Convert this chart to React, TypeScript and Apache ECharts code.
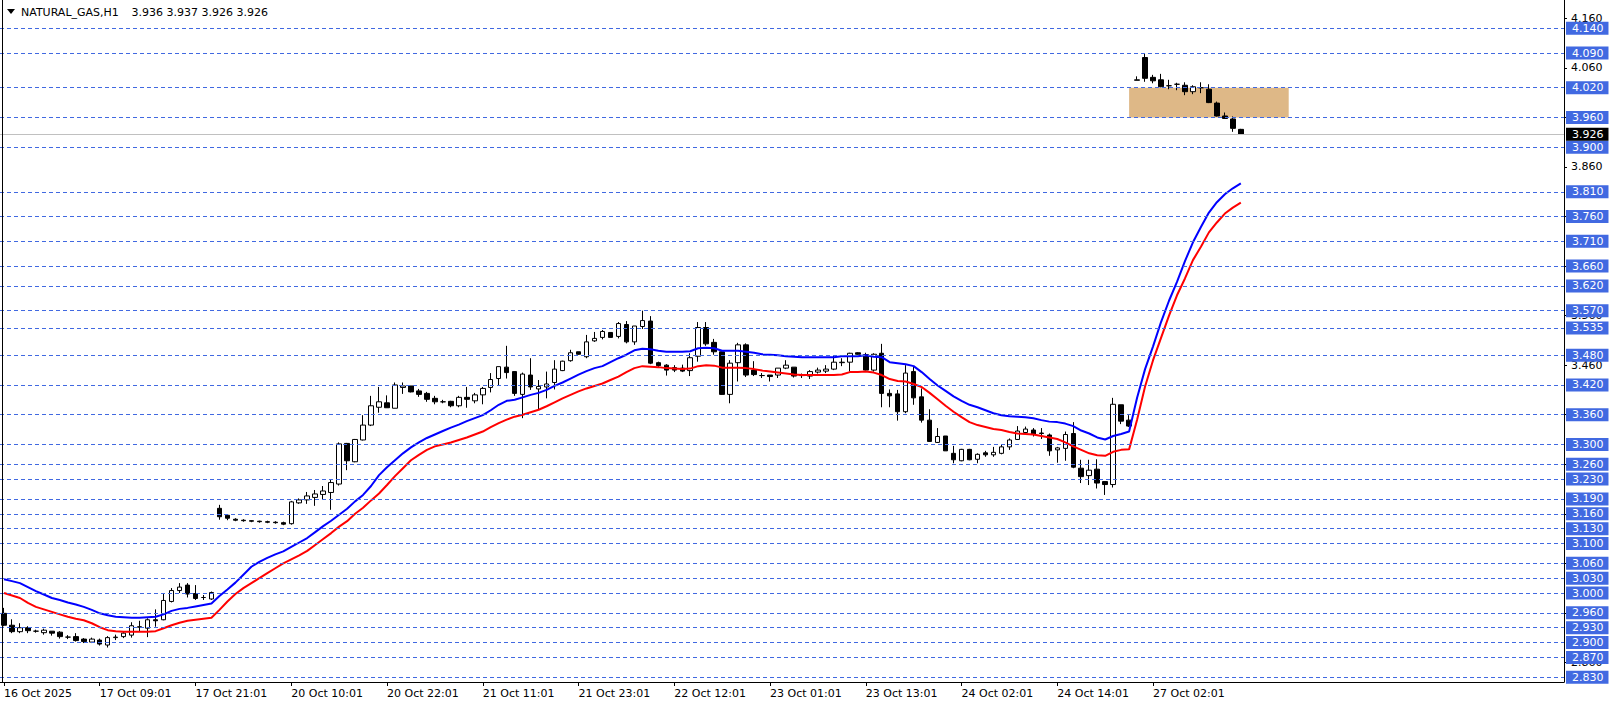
import React, { useEffect, useRef } from 'react';
import * as echarts from 'echarts';

// ---------- data ----------
const symbolName = 'NATURAL_GAS,H1';

const xTickLabels = [
  '16 Oct 2025', '17 Oct 09:01', '17 Oct 21:01', '20 Oct 10:01', '20 Oct 22:01',
  '21 Oct 11:01', '21 Oct 23:01', '22 Oct 12:01', '23 Oct 01:01', '23 Oct 13:01',
  '24 Oct 02:01', '24 Oct 14:01', '27 Oct 02:01',
];

const yTickValues = [2.86, 2.96, 3.06, 3.16, 3.26, 3.36, 3.46, 3.56, 3.66, 3.76, 3.86, 3.96, 4.06, 4.16];

const levelLines = [
  4.14, 4.09, 4.02, 3.96, 3.9, 3.81, 3.76, 3.71, 3.66, 3.62, 3.57, 3.535, 3.48, 3.42, 3.36,
  3.3, 3.26, 3.23, 3.19, 3.16, 3.13, 3.1, 3.06, 3.03, 3.0, 2.96, 2.93, 2.9, 2.87, 2.83,
];

const lastPrice = 3.926;

const zoneBars = ['141', '161'];
const zonePrices = [4.02, 3.96];

const open = [
  2.959, 2.935, 2.922, 2.930, 2.923, 2.920, 2.923, 2.921, 2.911, 2.912,
  2.907, 2.901, 2.905, 2.895, 2.910, 2.912, 2.915, 2.931, 2.929, 2.946,
  2.946, 2.983, 3.005, 3.016, 2.999, 2.991, 2.988, 3.171, 3.157, 3.149,
  3.147, 3.146, 3.145, 3.144, 3.143, 3.142, 3.140, 3.182, 3.188, 3.193,
  3.199, 3.203, 3.220, 3.302, 3.265, 3.309, 3.339, 3.375, 3.384, 3.373,
  3.415, 3.418, 3.408, 3.403, 3.393, 3.386, 3.387, 3.378, 3.395, 3.388,
  3.400, 3.415, 3.433, 3.456, 3.447, 3.401, 3.440, 3.412, 3.416, 3.425,
  3.449, 3.469, 3.487, 3.477, 3.509, 3.516, 3.526, 3.518, 3.542, 3.507,
  3.538, 3.549, 3.465, 3.460, 3.455, 3.454, 3.449, 3.478, 3.536, 3.506,
  3.487, 3.401, 3.465, 3.501, 3.450, 3.439, 3.440, 3.440, 3.454, 3.456,
  3.439, 3.438, 3.446, 3.448, 3.452, 3.465, 3.466, 3.485, 3.481, 3.450,
  3.484, 3.403, 3.402, 3.366, 3.447, 3.396, 3.349, 3.304, 3.317, 3.282,
  3.267, 3.290, 3.270, 3.283, 3.279, 3.282, 3.295, 3.310, 3.324, 3.329,
  3.323, 3.319, 3.289, 3.292, 3.322, 3.252, 3.237, 3.250, 3.225, 3.219,
  3.380, 3.349, 4.035, 4.081, 4.041, 4.036, 4.024, 4.027, 4.025, 4.012,
  4.020, 4.017, 3.989, 3.963, 3.957, 3.936,
];

const close = [
  2.935, 2.922, 2.930, 2.924, 2.923, 2.925, 2.919, 2.912, 2.911, 2.904,
  2.902, 2.907, 2.897, 2.910, 2.911, 2.919, 2.934, 2.932, 2.946, 2.944,
  2.985, 3.005, 3.012, 2.998, 2.989, 2.991, 3.001, 3.154, 3.151, 3.147,
  3.146, 3.145, 3.144, 3.143, 3.142, 3.139, 3.184, 3.188, 3.196, 3.200,
  3.206, 3.223, 3.301, 3.267, 3.310, 3.339, 3.378, 3.386, 3.374, 3.420,
  3.418, 3.406, 3.401, 3.391, 3.386, 3.386, 3.378, 3.395, 3.391, 3.400,
  3.413, 3.431, 3.457, 3.445, 3.403, 3.442, 3.416, 3.417, 3.422, 3.452,
  3.468, 3.485, 3.482, 3.507, 3.514, 3.528, 3.516, 3.544, 3.507, 3.539,
  3.550, 3.464, 3.459, 3.450, 3.450, 3.448, 3.475, 3.536, 3.503, 3.487,
  3.401, 3.464, 3.501, 3.440, 3.441, 3.439, 3.437, 3.454, 3.460, 3.438,
  3.439, 3.447, 3.450, 3.452, 3.466, 3.466, 3.484, 3.482, 3.450, 3.482,
  3.403, 3.398, 3.366, 3.444, 3.394, 3.349, 3.306, 3.316, 3.287, 3.269,
  3.290, 3.269, 3.280, 3.279, 3.284, 3.295, 3.309, 3.327, 3.331, 3.321,
  3.322, 3.287, 3.293, 3.320, 3.254, 3.235, 3.248, 3.222, 3.219, 3.381,
  3.347, 3.337, 4.036, 4.039, 4.034, 4.022, 4.024, 4.027, 4.012, 4.022,
  4.020, 3.990, 3.963, 3.958, 3.938, 3.926,
];

const low = [
  2.933, 2.919, 2.919, 2.919, 2.920, 2.916, 2.914, 2.908, 2.907, 2.902,
  2.899, 2.899, 2.894, 2.890, 2.905, 2.909, 2.910, 2.923, 2.911, 2.932,
  2.945, 2.981, 3.000, 2.991, 2.986, 2.986, 2.986, 3.148, 3.147, 3.145,
  3.144, 3.143, 3.142, 3.141, 3.140, 3.137, 3.138, 3.180, 3.180, 3.176,
  3.189, 3.168, 3.217, 3.248, 3.264, 3.308, 3.337, 3.364, 3.374, 3.373,
  3.402, 3.405, 3.396, 3.386, 3.381, 3.383, 3.375, 3.375, 3.374, 3.383,
  3.381, 3.405, 3.418, 3.433, 3.398, 3.353, 3.410, 3.370, 3.393, 3.411,
  3.448, 3.467, 3.481, 3.474, 3.507, 3.512, 3.516, 3.514, 3.504, 3.501,
  3.533, 3.462, 3.456, 3.439, 3.446, 3.446, 3.438, 3.467, 3.499, 3.481,
  3.400, 3.383, 3.427, 3.436, 3.438, 3.434, 3.427, 3.434, 3.452, 3.435,
  3.434, 3.432, 3.443, 3.444, 3.450, 3.458, 3.447, 3.481, 3.449, 3.447,
  3.375, 3.375, 3.348, 3.363, 3.380, 3.344, 3.305, 3.303, 3.287, 3.262,
  3.266, 3.268, 3.262, 3.275, 3.275, 3.280, 3.289, 3.309, 3.322, 3.316,
  3.311, 3.277, 3.263, 3.267, 3.252, 3.222, 3.218, 3.211, 3.198, 3.213,
  3.341, 3.335, 4.035, 4.032, 4.029, 4.021, 4.017, 4.015, 4.005, 4.007,
  4.009, 3.989, 3.962, 3.957, 3.931, 3.926,
];

const high = [
  2.970, 2.947, 2.939, 2.933, 2.926, 2.928, 2.923, 2.923, 2.915, 2.919,
  2.909, 2.910, 2.908, 2.913, 2.916, 2.923, 2.941, 2.944, 2.949, 2.967,
  2.998, 3.010, 3.020, 3.020, 3.016, 2.996, 3.003, 3.178, 3.159, 3.151,
  3.149, 3.147, 3.146, 3.146, 3.145, 3.144, 3.186, 3.191, 3.204, 3.208,
  3.216, 3.230, 3.304, 3.303, 3.311, 3.359, 3.398, 3.416, 3.399, 3.425,
  3.425, 3.418, 3.412, 3.406, 3.398, 3.390, 3.388, 3.398, 3.416, 3.404,
  3.416, 3.444, 3.457, 3.499, 3.447, 3.445, 3.474, 3.430, 3.447, 3.470,
  3.469, 3.491, 3.487, 3.521, 3.527, 3.531, 3.526, 3.547, 3.549, 3.539,
  3.570, 3.559, 3.467, 3.462, 3.460, 3.461, 3.484, 3.547, 3.547, 3.513,
  3.488, 3.470, 3.505, 3.504, 3.468, 3.444, 3.440, 3.454, 3.470, 3.456,
  3.443, 3.450, 3.455, 3.460, 3.480, 3.474, 3.485, 3.486, 3.485, 3.484,
  3.503, 3.411, 3.410, 3.460, 3.457, 3.413, 3.371, 3.333, 3.317, 3.297,
  3.291, 3.291, 3.282, 3.287, 3.295, 3.300, 3.312, 3.337, 3.336, 3.333,
  3.333, 3.322, 3.295, 3.326, 3.345, 3.269, 3.269, 3.270, 3.225, 3.394,
  3.380, 3.359, 4.043, 4.088, 4.046, 4.048, 4.036, 4.030, 4.031, 4.025,
  4.031, 4.027, 3.992, 3.970, 3.962, 3.937,
];

const maBlue = [
  3.028, 3.024, 3.020, 3.012, 3.004, 2.997, 2.990, 2.986, 2.981, 2.977,
  2.972, 2.966, 2.959, 2.955, 2.952, 2.951, 2.950, 2.950, 2.951, 2.952,
  2.957, 2.964, 2.968, 2.970, 2.973, 2.976, 2.979, 2.994, 3.007, 3.021,
  3.037, 3.053, 3.063, 3.071, 3.078, 3.084, 3.093, 3.102, 3.111, 3.123,
  3.135, 3.146, 3.158, 3.170, 3.185, 3.198, 3.216, 3.238, 3.254, 3.268,
  3.282, 3.294, 3.304, 3.313, 3.320, 3.327, 3.334, 3.340, 3.347, 3.353,
  3.359, 3.369, 3.380, 3.388, 3.390, 3.395, 3.400, 3.404, 3.410, 3.418,
  3.425, 3.433, 3.441, 3.448, 3.454, 3.458, 3.466, 3.474, 3.481, 3.490,
  3.493, 3.492, 3.489, 3.487, 3.487, 3.487, 3.488, 3.494, 3.495, 3.494,
  3.489, 3.489, 3.489, 3.487, 3.485, 3.482, 3.481, 3.480, 3.478, 3.477,
  3.476, 3.476, 3.476, 3.476, 3.476, 3.478, 3.478, 3.478, 3.480, 3.477,
  3.476, 3.466, 3.464, 3.462, 3.458, 3.446, 3.432, 3.419, 3.408, 3.397,
  3.388, 3.380, 3.375, 3.369, 3.363, 3.359, 3.357, 3.356, 3.355, 3.353,
  3.349, 3.346, 3.345, 3.342, 3.337, 3.328, 3.322, 3.314, 3.310, 3.317,
  3.321, 3.326, 3.394, 3.452, 3.498, 3.547, 3.590, 3.628, 3.670, 3.708,
  3.739, 3.768, 3.789, 3.805, 3.817, 3.827,
];

const maRed = [
  3.000, 2.995, 2.990, 2.980, 2.972, 2.967, 2.962, 2.957, 2.952, 2.948,
  2.945, 2.939, 2.931, 2.925, 2.923, 2.922, 2.922, 2.922, 2.922, 2.923,
  2.929, 2.935, 2.940, 2.944, 2.946, 2.948, 2.950, 2.966, 2.983, 2.998,
  3.010, 3.020, 3.030, 3.040, 3.050, 3.060, 3.068, 3.076, 3.085, 3.097,
  3.109, 3.121, 3.134, 3.145, 3.160, 3.172, 3.187, 3.201, 3.218, 3.236,
  3.252, 3.268, 3.279, 3.289, 3.296, 3.300, 3.304, 3.309, 3.314, 3.320,
  3.326, 3.335, 3.343, 3.350, 3.356, 3.360, 3.365, 3.370, 3.377, 3.385,
  3.393, 3.400, 3.407, 3.413, 3.418, 3.423, 3.430, 3.437, 3.446, 3.454,
  3.458, 3.457, 3.456, 3.454, 3.453, 3.452, 3.453, 3.458, 3.460, 3.459,
  3.455, 3.455, 3.455, 3.454, 3.452, 3.449, 3.447, 3.445, 3.443, 3.441,
  3.440, 3.440, 3.440, 3.440, 3.440, 3.441, 3.446, 3.446, 3.447, 3.445,
  3.440, 3.432, 3.428, 3.427, 3.422, 3.416, 3.404, 3.391, 3.378, 3.366,
  3.355, 3.345, 3.339, 3.335, 3.331, 3.329, 3.325, 3.322, 3.321, 3.320,
  3.317, 3.314, 3.311, 3.304, 3.296, 3.289, 3.282, 3.278, 3.277, 3.285,
  3.289, 3.290, 3.350, 3.417, 3.470, 3.515, 3.560, 3.601, 3.635, 3.672,
  3.699, 3.728, 3.748, 3.766, 3.778, 3.788,
];

const TOTAL_BARS = 196;

export default function App() {
  const ref = useRef<HTMLDivElement>(null);

  useEffect(() => {
    document.body.style.margin = '0';
    const chart = echarts.init(ref.current as HTMLDivElement, null, { renderer: 'svg' });
    const font = 'DejaVu Sans';
    const cats = Array.from({ length: TOTAL_BARS }, (_, i) => String(i));
    const candles = open.map((o, i) => [o, close[i], low[i], high[i]]);
    const n = open.length - 1;
    const ohlcValues = [open[n], high[n], low[n], close[n]].map((v) => v.toFixed(3));
    const showTick = (i: number) => i % 12 === 0 && i / 12 < xTickLabels.length;

    const titleStyle = { fill: '#000000', fontFamily: font, fontSize: 11, verticalAlign: 'middle' };

    chart.setOption({
      animation: false,
      backgroundColor: '#ffffff',
      grid: { left: -0.5, top: 0, width: 1564.5, height: 682, containLabel: false },
      xAxis: {
        type: 'category',
        data: cats,
        boundaryGap: true,
        axisLine: { show: true, lineStyle: { color: '#000000', width: 1 } },
        axisTick: { show: true, alignWithLabel: true, length: 4, interval: showTick, lineStyle: { color: '#000000' } },
        axisLabel: {
          interval: showTick,
          formatter: (_v: string, i: number) => (i % 12 === 0 ? xTickLabels[i / 12] ?? '' : ''),
          align: 'left',
          margin: 6,
          color: '#000000',
          fontFamily: font,
          fontSize: 11,
        },
        splitLine: { show: false },
      },
      yAxis: {
        type: 'value',
        position: 'right',
        min: 2.8204,
        max: 4.1971,
        axisLine: { show: true, lineStyle: { color: '#000000', width: 1 } },
        axisTick: { show: true, length: 3, customValues: yTickValues, lineStyle: { color: '#000000' } },
        axisLabel: {
          customValues: yTickValues,
          formatter: (v: number) => v.toFixed(3),
          margin: 7,
          color: '#000000',
          fontFamily: font,
          fontSize: 11,
        },
        splitLine: { show: false },
      },
      graphic: [
        { type: 'polygon', shape: { points: [[7, 9], [15, 9], [11, 14]] }, style: { fill: '#000000' }, z: 10 },
        { type: 'text', x: 21, y: 12, style: { ...titleStyle, text: symbolName }, z: 10 },
        ...ohlcValues.map((t, k) => ({
          type: 'text',
          x: 131.5 + 35 * k,
          y: 12,
          style: { ...titleStyle, text: t },
          z: 10,
        })),
        { type: 'line', shape: { x1: 2.5, y1: 0, x2: 2.5, y2: 682 }, style: { stroke: '#000000', lineWidth: 1 }, z: 10 },
      ],
      series: [
        {
          type: 'line',
          name: 'zone',
          data: [],
          z: 1,
          silent: true,
          markArea: {
            silent: true,
            itemStyle: { color: '#DEB887', opacity: 1 },
            data: [[{ xAxis: zoneBars[0], yAxis: zonePrices[0] }, { xAxis: zoneBars[1], yAxis: zonePrices[1] }]],
          },
        },
        {
          type: 'line',
          name: 'levels',
          data: [],
          z: 2,
          clip: false,
          silent: true,
          markLine: {
            silent: true,
            symbol: ['none', 'none'],
            precision: 3,
            lineStyle: { type: [4, 3], color: '#4169E1', width: 1 },
            label: {
              show: true,
              position: 'end',
              distance: 2,
              formatter: (p: any) => Number(p.value).toFixed(3),
              color: '#FFFFFF',
              backgroundColor: '#4169E1',
              padding: [1, 5, 0, 6],
              lineHeight: 12,
              fontFamily: font,
              fontSize: 11,
            },
            emphasis: { disabled: true },
            data: [
              ...levelLines.map((v) => ({ yAxis: v })),
              {
                yAxis: lastPrice,
                lineStyle: { type: 'solid', color: '#C0C0C0', width: 1 },
                label: { backgroundColor: '#000000', color: '#FFFFFF' },
              },
            ],
          },
        },
        {
          type: 'candlestick',
          name: symbolName,
          data: candles,
          z: 3,
          barWidth: 5,
          itemStyle: {
            color: '#FFFFFF',
            color0: '#000000',
            borderColor: '#000000',
            borderColor0: '#000000',
            borderWidth: 1,
          },
        },
        {
          type: 'line',
          name: 'MA blue',
          data: maBlue,
          z: 4,
          showSymbol: false,
          symbol: 'none',
          lineStyle: { color: '#0000FF', width: 2 },
          itemStyle: { color: '#0000FF' },
        },
        {
          type: 'line',
          name: 'MA red',
          data: maRed,
          z: 4,
          showSymbol: false,
          symbol: 'none',
          lineStyle: { color: '#FF0000', width: 2 },
          itemStyle: { color: '#FF0000' },
        },
      ],
    });

    return () => {
      chart.dispose();
    };
  }, []);

  return <div ref={ref} style={{ width: 1614, height: 706 }} />;
}
